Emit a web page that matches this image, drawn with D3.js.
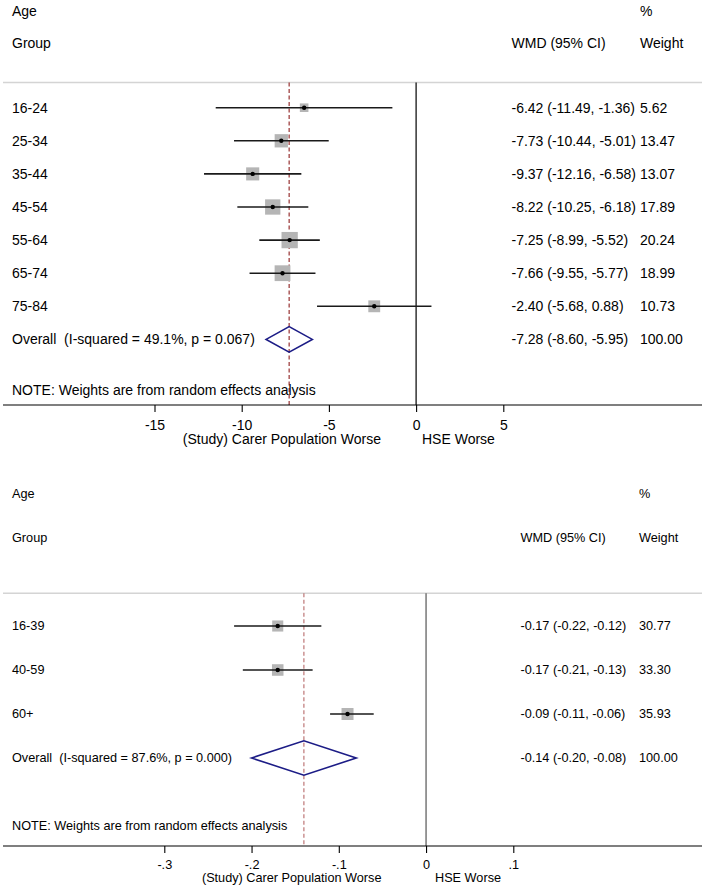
<!DOCTYPE html>
<html>
<head>
<meta charset="utf-8">
<script src="https://cdn.jsdelivr.net/npm/d3@7"></script>
<style>
  html, body { margin: 0; padding: 0; background: #fff; }
  svg { display: block; font-family: "Liberation Sans", Arial, sans-serif; }
  text { white-space: pre; }
</style>
</head>
<body>
<svg id="chart" width="705" height="889"></svg>
<script>
// ---------------- DATA ----------------
// Panel A
const groupsA  = ["16-24", "25-34", "35-44", "45-54", "55-64", "65-74", "75-84"];
const wmdA     = [-6.42, -7.73, -9.37, -8.22, -7.25, -7.66, -2.40];
const lowA     = [-11.49, -10.44, -12.16, -10.25, -8.99, -9.55, -5.68];
const highA    = [-1.36, -5.01, -6.58, -6.18, -5.52, -5.77, 0.88];
const weightA  = [5.62, 13.47, 13.07, 17.89, 20.24, 18.99, 10.73];
const overallA = [-7.28, -8.60, -5.95];   // estimate, low, high
const overallLabelA = "Overall  (I-squared = 49.1%, p = 0.067)";
const overallWeightA = "100.00";
const ticksA   = [-15, -10, -5, 0, 5];
const tickLabelsA = ["-15", "-10", "-5", "0", "5"];

// Panel B
const groupsB  = ["16-39", "40-59", "60+"];
const wmdB     = [-0.17, -0.17, -0.09];
const lowB     = [-0.22, -0.21, -0.11];
const highB    = [-0.12, -0.13, -0.06];
const weightB  = [30.77, 33.30, 35.93];
const overallB = [-0.14, -0.20, -0.08];
const overallLabelB = "Overall  (I-squared = 87.6%, p = 0.000)";
const overallWeightB = "100.00";
const ticksB   = [-0.3, -0.2, -0.1, 0, 0.1];
const tickLabelsB = ["-.3", "-.2", "-.1", "0", ".1"];

const fmt2 = d3.formatLocale({decimal: ".", thousands: ",", grouping: [3], currency: ["", ""], minus: "-"}).format(".2f");

// ---------------- DRAW ----------------
const svg = d3.select("#chart");

function panel(cfg) {
  const g = svg.append("g");
  const n = cfg.groups.length;
  const x = d3.scaleLinear().domain(cfg.xDomain).range(cfg.xRange);
  const y = d3.scaleLinear().domain([0, n]).range(cfg.yRange);
  const fs = cfg.fontSize;

  const text = (tx, ty, s, anchor) => g.append("text")
      .attr("x", tx).attr("y", ty).attr("dy", "0.35em")
      .attr("text-anchor", anchor || "start")
      .attr("font-size", fs).attr("fill", "#000").text(s);

  // headers
  text(12, cfg.headY1, "Age");
  text(12, cfg.headY2, "Group");
  text(cfg.colPct, cfg.headY1, "%");
  text(cfg.colPct, cfg.headY2, "Weight");
  text(cfg.colCI, cfg.headY2, "WMD (95% CI)");

  // separator
  g.append("line").attr("x1", 3).attr("x2", 702)
    .attr("y1", cfg.sepY).attr("y2", cfg.sepY)
    .attr("stroke", "#d4d4d4").attr("stroke-width", 1.6);

  // zero line
  g.append("line").attr("x1", x(0)).attr("x2", x(0))
    .attr("y1", cfg.sepY).attr("y2", cfg.axisY)
    .attr("stroke", cfg.zeroColor).attr("stroke-width", 1.2);

  // overall dashed line
  g.append("line").attr("x1", x(cfg.overall[0])).attr("x2", x(cfg.overall[0]))
    .attr("y1", cfg.sepY).attr("y2", cfg.axisY)
    .attr("stroke", cfg.dashColor).attr("stroke-width", 1.1)
    .attr("stroke-dasharray", "4,2.5");

  const rows = cfg.groups.map((grp, i) => ({
    grp, est: cfg.wmd[i], lo: cfg.low[i], hi: cfg.high[i], w: cfg.weight[i], i
  }));

  // boxes
  g.selectAll("rect.box").data(rows).enter().append("rect")
    .attr("class", "box")
    .attr("x", d => x(d.est) - cfg.boxK * Math.sqrt(d.w) / 2)
    .attr("y", d => y(d.i) - cfg.boxK * Math.sqrt(d.w) / 2)
    .attr("width", d => cfg.boxK * Math.sqrt(d.w))
    .attr("height", d => cfg.boxK * Math.sqrt(d.w))
    .attr("fill", "#b5b5b5");

  // CI lines
  g.selectAll("line.ci").data(rows).enter().append("line")
    .attr("class", "ci")
    .attr("x1", d => x(d.lo)).attr("x2", d => x(d.hi))
    .attr("y1", d => y(d.i)).attr("y2", d => y(d.i))
    .attr("stroke", "#1a1a1a").attr("stroke-width", 1.6);

  // points
  g.selectAll("circle.pt").data(rows).enter().append("circle")
    .attr("class", "pt")
    .attr("cx", d => x(d.est)).attr("cy", d => y(d.i)).attr("r", 2.2)
    .attr("fill", "#000");

  // labels
  rows.forEach(d => {
    text(12, y(d.i), d.grp);
    text(cfg.colCI, y(d.i), `${fmt2(d.est)} (${fmt2(d.lo)}, ${fmt2(d.hi)})`);
    text(cfg.colPct, y(d.i), fmt2(d.w));
  });

  // overall diamond
  const oy = y(n);
  const [oe, ol, oh] = cfg.overall;
  g.append("path")
    .attr("d", `M${x(ol)},${oy} L${x(oe)},${oy - cfg.diaH} L${x(oh)},${oy} L${x(oe)},${oy + cfg.diaH} Z`)
    .attr("fill", "none").attr("stroke", "#1c1c86").attr("stroke-width", 1.6);
  text(12, oy, cfg.overallLabel);
  text(cfg.colCI, oy, `${fmt2(oe)} (${fmt2(ol)}, ${fmt2(oh)})`);
  text(cfg.colPct, oy, cfg.overallWeight);

  // note
  text(12, cfg.noteY, "NOTE: Weights are from random effects analysis");

  // axis
  g.append("line").attr("x1", 3).attr("x2", 702)
    .attr("y1", cfg.axisY).attr("y2", cfg.axisY)
    .attr("stroke", "#000").attr("stroke-width", 1.2);
  const axis = d3.axisBottom(x).tickValues(cfg.ticks)
    .tickFormat((d, i) => cfg.tickLabels[i]).tickSize(7).tickSizeOuter(0);
  const ag = g.append("g").attr("transform", `translate(0,${cfg.axisY})`).call(axis);
  ag.select(".domain").remove();
  ag.selectAll(".tick line").attr("stroke", "#000").attr("stroke-width", 1.1);
  ag.selectAll(".tick text")
    .attr("y", cfg.tickLabelDy).attr("dy", "0.35em")
    .attr("font-size", fs).attr("font-family", "Liberation Sans, Arial, sans-serif")
    .attr("fill", "#000");

  text(cfg.leftSubEnd, cfg.subY, "(Study) Carer Population Worse", "end");
  text(cfg.rightSubStart, cfg.subY, "HSE Worse");
}

panel({
  groups: groupsA, wmd: wmdA, low: lowA, high: highA, weight: weightA,
  overall: overallA, overallLabel: overallLabelA, overallWeight: overallWeightA,
  ticks: ticksA, tickLabels: tickLabelsA,
  xDomain: [-15, 5], xRange: [154.5, 503.3],
  yRange: [107.7, 339.4],
  fontSize: 14,
  headY1: 11, headY2: 43, sepY: 82.5, noteY: 390, axisY: 405,
  tickLabelDy: 20, subY: 439.5,
  colCI: 511.5, colPct: 640,
  boxK: 3.62, diaH: 12.8,
  zeroColor: "#000", dashColor: "#8e1f1f",
  leftSubEnd: 381, rightSubStart: 422
});

panel({
  groups: groupsB, wmd: wmdB, low: lowB, high: highB, weight: weightB,
  overall: overallB, overallLabel: overallLabelB, overallWeight: overallWeightB,
  ticks: ticksB, tickLabels: tickLabelsB,
  xDomain: [-0.3, 0.1], xRange: [164.3, 513.3],
  yRange: [626, 758],
  fontSize: 12.7,
  headY1: 494, headY2: 538, sepY: 593.3, noteY: 826, axisY: 846,
  tickLabelDy: 18.5, subY: 878,
  colCI: 520.5, colPct: 639,
  boxK: 2.0, diaH: 17.2,
  zeroColor: "#555", dashColor: "#b86a6a",
  leftSubEnd: 381.5, rightSubStart: 435
});
</script>
</body>
</html>
